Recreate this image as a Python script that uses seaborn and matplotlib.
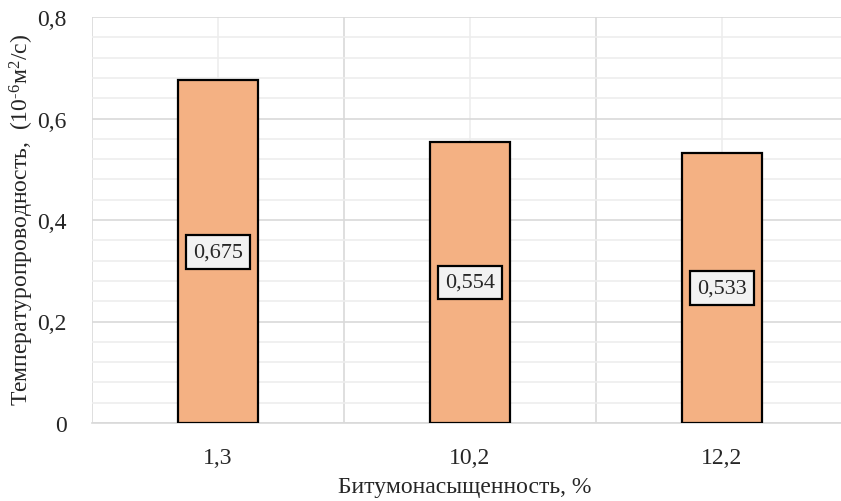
import matplotlib
matplotlib.use("Agg")
import matplotlib.pyplot as plt
from matplotlib.ticker import MultipleLocator, FixedLocator, FuncFormatter
import seaborn as sns
import pandas as pd

# Bitumen saturation (%) and thermal diffusivity (10^-6 m^2/s)
saturation = ["1,3", "10,2", "12,2"]
diffusivity = [0.675, 0.554, 0.533]
y_ticks = [0, 0.2, 0.4, 0.6, 0.8]

df = pd.DataFrame({"saturation": saturation, "diffusivity": diffusivity})

sns.set_theme(style="white")
plt.rcParams["font.family"] = ["Liberation Serif", "DejaVu Serif"]
plt.rcParams["mathtext.fontset"] = "custom"
plt.rcParams["mathtext.rm"] = "Liberation Serif"
plt.rcParams["mathtext.it"] = "Liberation Serif:italic"
plt.rcParams["mathtext.bf"] = "Liberation Serif:bold"

FS = 17

fig = plt.figure(figsize=(8.41, 5.02), dpi=100)
ax = fig.add_axes([92 / 841, 1 - 424 / 502, 756 / 841, 406 / 502])

sns.barplot(data=df, x="saturation", y="diffusivity", order=saturation,
            color="#F4B183", saturation=1, width=0.32,
            edgecolor="black", linewidth=1.6, ax=ax, zorder=3)

ax.set_ylim(0, 0.8)
ax.set_xlim(-0.5, len(saturation) - 0.5)

# gridlines: major/minor in both directions
ax.yaxis.set_major_locator(FixedLocator(y_ticks))
ax.yaxis.set_minor_locator(MultipleLocator(0.04))
ax.xaxis.set_minor_locator(FixedLocator([i - 0.5 for i in range(len(saturation) + 1)]))
ax.grid(which="major", axis="y", color="#D9D9D9", linewidth=1.2, zorder=0)
ax.grid(which="minor", axis="y", color="#EDEDED", linewidth=1.2, zorder=0)
ax.grid(which="major", axis="x", color="#EDEDED", linewidth=1.2, zorder=0)
ax.grid(which="minor", axis="x", color="#D9D9D9", linewidth=1.2, zorder=0)
ax.set_axisbelow(True)

ax.yaxis.set_major_formatter(
    FuncFormatter(lambda v, p: "0" if v == 0 else f"{v:.1f}".replace(".", ",")))
ax.tick_params(axis="both", which="both", length=0)
ax.tick_params(axis="y", pad=18, labelsize=FS)
ax.tick_params(axis="x", pad=17, labelsize=FS)

for side in ["top", "right", "left"]:
    ax.spines[side].set_visible(False)
ax.spines["bottom"].set_color("#D9D9D9")
ax.spines["bottom"].set_linewidth(1.2)

ax.set_xlabel("Битумонасыщенность, %", fontsize=FS)
ax.xaxis.set_label_coords(373 / 756, -64 / 406)
ax.xaxis.label.set_va("center")
ax.set_ylabel(r"Температуропроводность,  (10$^{\text{-6}}$м$^{2}$/с)", fontsize=FS)
ax.yaxis.set_label_coords(-70 / 756, 204 / 406)
ax.yaxis.label.set_va("center")

# value labels in boxes at mid-height of each bar
for i, v in enumerate(diffusivity):
    ax.text(i, v / 2, f"{v:.3f}".replace(".", ","), ha="center", va="center",
            fontsize=16, zorder=5,
            bbox=dict(boxstyle="square,pad=0.33", facecolor="#F2F2F2",
                      edgecolor="black", linewidth=1.6))

fig.savefig("out.png", dpi=100)
